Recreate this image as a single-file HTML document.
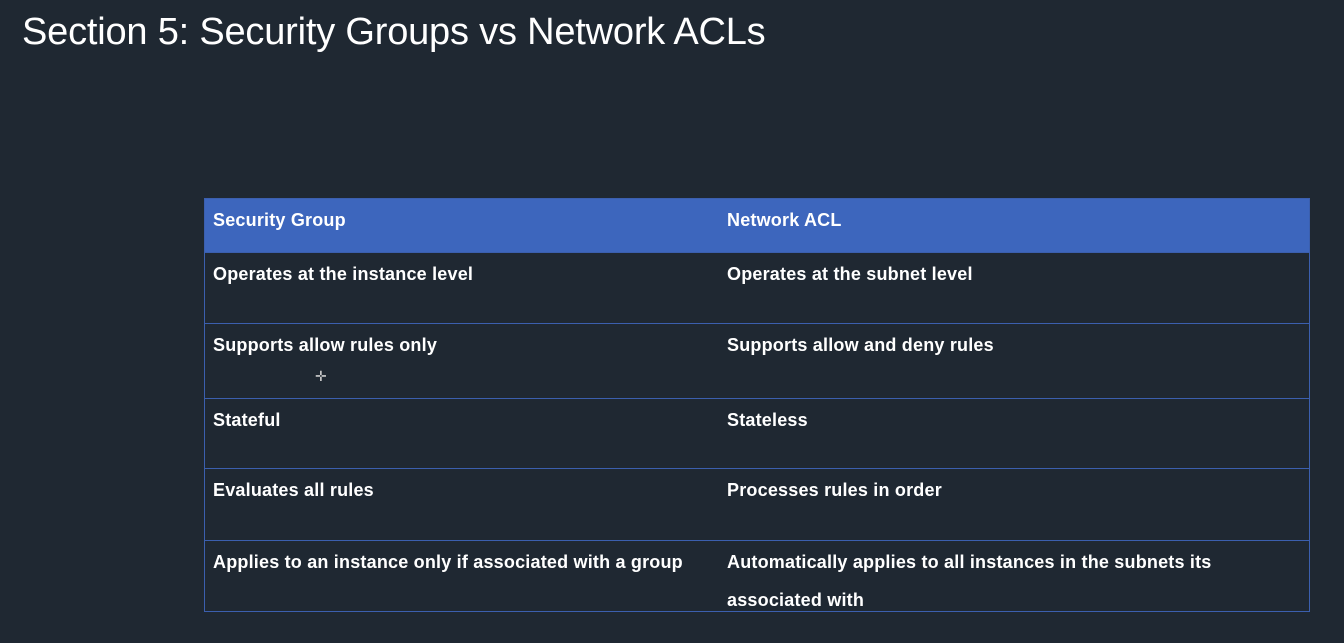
<!DOCTYPE html>
<html><head><style>
body{margin:0;width:1344px;height:643px;background:#1f2832;overflow:hidden;font-family:"Liberation Sans",sans-serif;color:#fff;position:relative}
h1{position:absolute;left:22px;top:11px;margin:0;font-weight:normal;font-size:38px;letter-spacing:-0.2px}
.t{position:absolute;left:204px;top:198px;width:1106px;border:1px solid #3b5fae;box-sizing:border-box}
.r{position:relative;border-top:1px solid #3b5fae;box-sizing:border-box}
.r:first-child{border-top:none;background:#3d66bd}
.c{position:absolute;top:2px;font-weight:bold;font-size:18px;line-height:38px;letter-spacing:0.2px}
.c1{left:8px}.c2{left:522px}
.x{position:absolute;left:315px;top:368px;color:#ccc;font-size:14px}
</style></head><body>
<h1>Section 5: Security Groups vs Network ACLs</h1>
<div class="t">
<div class="r" style="height:53px"><div class="c c1">Security Group</div><div class="c c2">Network ACL</div></div>
<div class="r" style="height:71px"><div class="c c1">Operates at the instance level</div><div class="c c2">Operates at the subnet level</div></div>
<div class="r" style="height:75px"><div class="c c1">Supports allow rules only</div><div class="c c2">Supports allow and deny rules</div></div>
<div class="r" style="height:70px"><div class="c c1">Stateful</div><div class="c c2">Stateless</div></div>
<div class="r" style="height:72px"><div class="c c1">Evaluates all rules</div><div class="c c2">Processes rules in order</div></div>
<div class="r" style="height:71px"><div class="c c1">Applies to an instance only if associated with a group</div><div class="c c2">Automatically applies to all instances in the subnets its<br>associated with</div></div>
</div>
<div class="x">✛</div>
</body></html>
